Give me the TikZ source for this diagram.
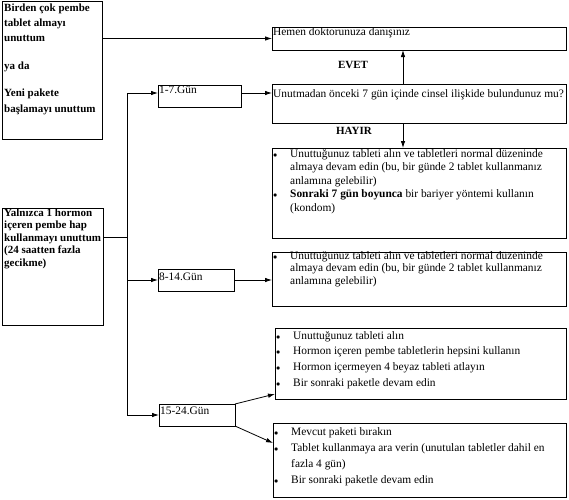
\documentclass[tikz,border=0pt]{standalone}
\usepackage{fontspec}
\setmainfont{Liberation Serif}
\usetikzlibrary{arrows.meta,calc,positioning}

\newcommand{\bitem}{\makebox[17pt][l]{$\scriptstyle\bullet$}}
\newcommand{\bcont}{\hspace*{17pt}}
\newcommand{\topstrut}{\rule{0pt}{9pt}}

\begin{document}
\begin{tikzpicture}[
        x=1pt, y=1pt,
        box/.style={draw, line width=0.8pt, inner sep=0pt, outer sep=0pt, anchor=north west},
        txt/.style={inner sep=0pt, anchor=north west, align=left},
        arr/.style={line width=0.8pt, -{Latex[length=7pt, width=4.5pt]}},
        lne/.style={line width=0.8pt}
    ]
        \useasboundingbox (0,0) rectangle (569,-499);

        % Left boxes
        \node[box, minimum width=100pt, minimum height=138pt] (forgotmany) at (2,-1) {};
        \node[txt, font=\bfseries\fontsize{11}{15.3}\selectfont] (forgotmanytxt) at (4,-2) {
            \topstrut Birden çok pembe\\ tablet almayı\\ unuttum\\[12.5pt]
            ya da\\[12pt]
            Yeni pakete\\ başlamayı unuttum};

        \node[box, minimum width=101pt, minimum height=117pt] (forgotone) at (2,-208) {};
        \node[txt, font=\bfseries\fontsize{11}{12.5}\selectfont] (forgotonetxt) at (4,-207) {
            \topstrut Yalnızca 1 hormon\\ içeren pembe hap\\ kullanmayı unuttum\\
            (24 saatten fazla\\ gecikme)};

        % Day boxes
        \node[box, minimum width=83pt, minimum height=22pt] (day17) at (158,-85) {};
        \node[txt, font=\fontsize{11.4}{13}\selectfont] (day17txt) at (159,-84) {\topstrut 1-7.Gün};
        \node[box, minimum width=76pt, minimum height=22pt] (day814) at (158,-269) {};
        \node[txt, font=\fontsize{11.4}{13}\selectfont] (day814txt) at (159,-271) {\topstrut 8-14.Gün};
        \node[box, minimum width=76pt, minimum height=22pt] (day1524) at (159,-404) {};
        \node[txt, font=\fontsize{11.4}{13}\selectfont] (day1524txt) at (160,-405) {\topstrut 15-24.Gün};

        % Right boxes
        \node[box, minimum width=294pt, minimum height=23pt] (doctor) at (272,-27) {};
        \node[txt, font=\fontsize{11.4}{13}\selectfont] (doctortxt) at (273,-26) {\topstrut Hemen doktorunuza danışınız};

        \node[box, minimum width=294pt, minimum height=39pt] (question) at (272,-84) {};
        \node[txt, font=\fontsize{11.4}{13}\selectfont] (questiontxt) at (273,-88)
            {\topstrut Unutmadan önceki 7 gün içinde cinsel ilişkide bulundunuz mu?};

        \node[box, minimum width=294pt, minimum height=90pt] (noact) at (272,-148) {};
        \node[txt, font=\fontsize{11.4}{13.5}\selectfont] (noacttxt) at (273,-148) {
            \topstrut\bitem Unuttuğunuz tableti alın ve tabletleri normal düzeninde\\
            \bcont almaya devam edin (bu, bir günde 2 tablet kullanmanız\\
            \bcont anlamına gelebilir)\\
            \bitem \textbf{Sonraki 7 gün boyunca} bir bariyer yöntemi kullanın\\
            \bcont (kondom)};

        \node[box, minimum width=294pt, minimum height=54pt] (act814) at (272,-252) {};
        \node[txt, font=\fontsize{11.4}{12.5}\selectfont] (act814txt) at (273,-250) {
            \topstrut\bitem Unuttuğunuz tableti alın ve tabletleri normal düzeninde\\
            \bcont almaya devam edin (bu, bir günde 2 tablet kullanmanız\\
            \bcont anlamına gelebilir)};

        \node[box, minimum width=291pt, minimum height=71pt] (skipwhite) at (275,-328) {};
        \node[txt, font=\fontsize{11.4}{15.7}\selectfont] (skipwhitetxt) at (276,-330) {
            \topstrut\bitem Unuttuğunuz tableti alın\\
            \bitem Hormon içeren pembe tabletlerin hepsini kullanın\\
            \bitem Hormon içermeyen 4 beyaz tableti atlayın\\
            \bitem Bir sonraki paketle devam edin};

        \node[box, minimum width=293pt, minimum height=74pt] (stoppack) at (273,-423) {};
        \node[txt, font=\fontsize{11.4}{16}\selectfont] (stoppacktxt) at (274,-426) {
            \topstrut\bitem Mevcut paketi bırakın\\
            \bitem Tablet kullanmaya ara verin (unutulan tabletler dahil en\\
            \bcont fazla 4 gün)\\
            \bitem Bir sonraki paketle devam edin};

        % Answer labels
        \node[font=\bfseries\fontsize{11}{13}\selectfont] (evet) at (353,-65) {EVET};
        \node[font=\bfseries\fontsize{11}{13}\selectfont] (hayir) at (354,-131) {HAYIR};

        % Trunk
        \coordinate (trunktop) at (127,-93);
        \coordinate (trunkmid) at (127,-237);
        \coordinate (trunkbot) at (day1524.west -| trunktop);
        \draw[lne] (trunktop) -- (trunkbot);
        \draw[lne] (forgotone.east |- trunkmid) -- (trunkmid);

        % Connectors
        \draw[arr] (forgotmany.east |- doctor.west) -- (doctor.west);
        \draw[arr] (trunktop) -- (trunktop -| day17.west);
        \draw[arr] (trunktop -| day17.east) -- (trunktop -| question.west);
        \draw[arr] ([xshift=-16pt]question.north) -- ([xshift=-16pt]question.north |- doctor.south);
        \draw[arr] ([xshift=-16pt]question.south) -- ([xshift=-16pt]question.south |- noact.north);
        \draw[arr] (day814.west -| trunktop) -- (day814.west);
        \draw[arr] (day814.east) -- (day814.east -| act814.west);
        \draw[arr] (trunkbot) -- (day1524.west);
        \draw[arr] (day1524.north east) -- ([yshift=5pt]skipwhite.south west);
        \draw[arr] (day1524.south east) -- ([yshift=-20pt]stoppack.north west);
    \end{tikzpicture}
\end{document}
